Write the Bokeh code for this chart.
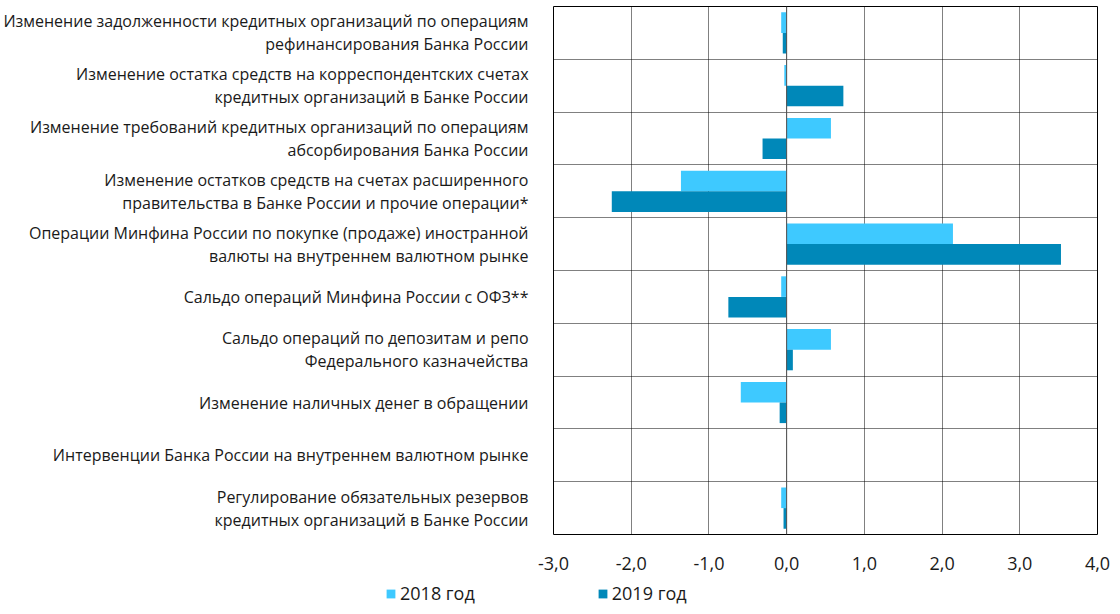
from bokeh.plotting import figure
from bokeh.models import (Range1d, FixedTicker, Span, Legend, LegendItem, ColumnDataSource)
from bokeh.transform import dodge
from bokeh.embed import file_html
from bokeh.resources import INLINE

categories = [
    "Изменение задолженности кредитных организаций по операциям\nрефинансирования Банка России",
    "Изменение остатка средств на корреспондентских счетах\nкредитных организаций в Банке России",
    "Изменение требований кредитных организаций по операциям\nабсорбирования Банка России",
    "Изменение остатков средств на счетах расширенного\nправительства в Банке России и прочие операции*",
    "Операции Минфина России по покупке (продаже) иностранной\nвалюты на внутреннем валютном рынке",
    "Сальдо операций Минфина России с ОФЗ**",
    "Сальдо операций по депозитам и репо\nФедерального казначейства",
    "Изменение наличных денег в обращении",
    "Интервенции Банка России на внутреннем валютном рынке",
    "Регулирование обязательных резервов\nкредитных организаций в Банке России",
]
values_2018 = [-0.07, -0.03, 0.57, -1.36, 2.14, -0.07, 0.57, -0.59, 0.0, -0.07]
values_2019 = [-0.05, 0.73, -0.31, -2.25, 3.53, -0.75, 0.08, -0.09, 0.0, -0.04]
x_ticks = [-3, -2, -1, 0, 1, 2, 3, 4]
x_tick_labels = ["-3,0", "-2,0", "-1,0", "0,0", "1,0", "2,0", "3,0", "4,0"]
series_names = ["2018 год", "2019 год"]
colors = ["#3EC9FF", "#0088B9"]

idx = list(range(len(categories)))
src = ColumnDataSource(dict(idx=idx, v2018=values_2018, v2019=values_2019))

FONT = "Open Sans"
TXT = "#1a1a1a"

p = figure(width=1110, height=578, output_backend="svg", toolbar_location=None,
           x_range=Range1d(x_ticks[0], x_ticks[-1]),
           y_range=Range1d(len(categories) - 0.5, -0.5),
           min_border_left=549, min_border_right=13, min_border_top=6, min_border_bottom=44)

bar_h = 0.39
r1 = p.hbar(y=dodge("idx", -bar_h / 2, range=p.y_range), right="v2018", left=0, height=bar_h,
            source=src, fill_color=colors[0], line_color=None)
r2 = p.hbar(y=dodge("idx", bar_h / 2, range=p.y_range), right="v2019", left=0, height=bar_h,
            source=src, fill_color=colors[1], line_color=None)

p.add_layout(Span(location=0, dimension="height", line_color="#555555", line_width=1))

# axes
p.xaxis.ticker = FixedTicker(ticks=x_ticks)
p.xaxis.major_label_overrides = {t: l for t, l in zip(x_ticks, x_tick_labels)}
p.xaxis.major_tick_line_color = None
p.xaxis.minor_tick_line_color = None
p.xaxis.axis_line_color = None
p.xaxis.major_label_standoff = 16
p.xaxis.major_label_text_font = FONT
p.xaxis.major_label_text_font_size = "18px"
p.xaxis.major_label_text_color = TXT

p.yaxis.ticker = FixedTicker(ticks=idx)
p.yaxis.major_label_overrides = {i: c for i, c in zip(idx, categories)}
p.yaxis.major_tick_line_color = None
p.yaxis.minor_tick_line_color = None
p.yaxis.axis_line_color = None
p.yaxis.major_label_standoff = 19
p.yaxis.major_label_text_font = FONT
p.yaxis.major_label_text_font_size = "16px"
p.yaxis.major_label_text_color = TXT
p.yaxis.major_label_text_line_height = 1.05

# grids
p.xgrid.ticker = FixedTicker(ticks=x_ticks)
p.xgrid.grid_line_color = "#000000"
p.xgrid.grid_line_dash = "1 1"
p.ygrid.ticker = FixedTicker(ticks=[i + 0.5 for i in idx[:-1]])
p.ygrid.grid_line_color = "#000000"
p.ygrid.grid_line_dash = "1 1"

p.outline_line_color = "#000000"
p.outline_line_width = 1
p.background_fill_color = "white"
p.border_fill_color = "white"

# legend in its own strip below the chart (separate root, so no frame alignment);
# its renderers share the data source but the view range shows none of the bars
lg = figure(width=1110, height=28, output_backend="svg", toolbar_location=None,
            x_axis_type=None, y_axis_type=None, min_border=0,
            min_border_left=0, min_border_right=0, min_border_top=0, min_border_bottom=0,
            x_range=Range1d(x_ticks[0], x_ticks[-1]), y_range=Range1d(100, 101))
lg.outline_line_color = None
lg.xgrid.visible = False
lg.ygrid.visible = False
d1 = lg.hbar(y="idx", right="v2018", left=0, height=bar_h, source=src,
             fill_color=colors[0], line_color=None)
d2 = lg.hbar(y="idx", right="v2019", left=0, height=bar_h, source=src,
             fill_color=colors[1], line_color=None)
legend = Legend(items=[LegendItem(label=series_names[0], renderers=[d1]),
                       LegendItem(label=series_names[1], renderers=[d2])],
                location=(385, 1), orientation="horizontal",
                glyph_width=11, glyph_height=11, label_standoff=4, spacing=122,
                padding=0, margin=0, border_line_color=None, background_fill_alpha=0,
                label_text_font=FONT, label_text_font_size="18px", label_text_color=TXT,
                label_height=18)
lg.add_layout(legend, "center")

open("out.html", "w").write(file_html([p, lg], INLINE))
